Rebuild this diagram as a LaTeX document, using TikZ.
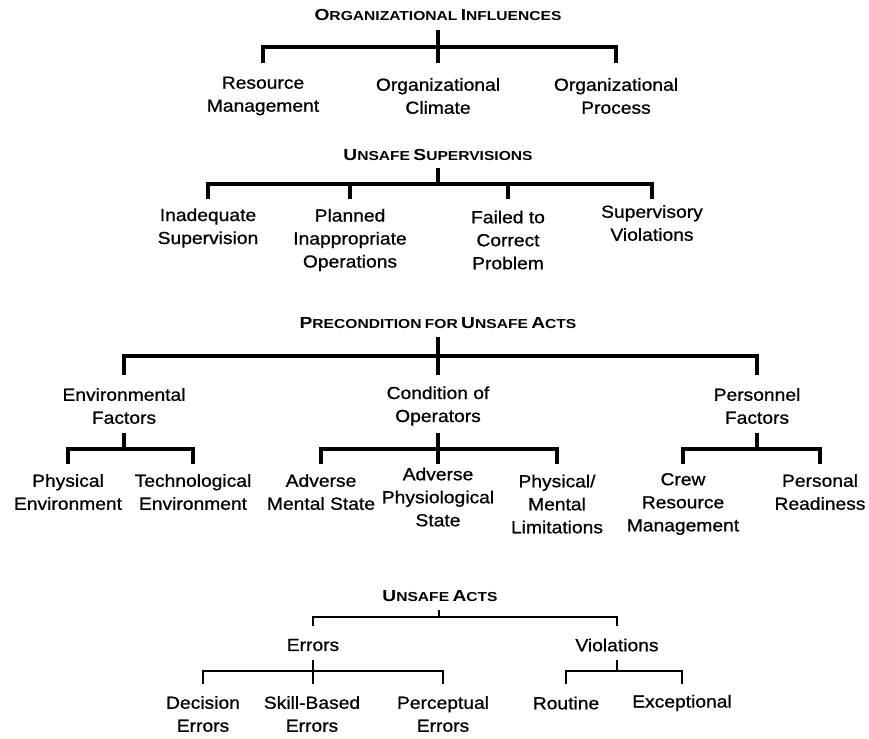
\documentclass[tikz,border=0pt]{standalone}
\usepackage{fontspec}
\setmainfont{Liberation Sans}[FakeStretch=1.1,FakeBold=0.8]
\newfontfamily\titlefont{Liberation Sans}[FakeStretch=1.2]
\newcommand\smcap[2]{{\fontsize{16}{18}\selectfont #1}{\fontsize{13}{18}\selectfont #2}}
\begin{document}
\begin{tikzpicture}[x=1pt,y=-1pt,
  lbl/.style={align=center, inner sep=0pt, font=\fontsize{17.5}{23}\selectfont, text=black},
  ttl/.style={inner sep=0pt, font=\titlefont\bfseries, text=black},
  br/.style={line width=4.5pt, line cap=butt, line join=miter},
  tn/.style={line width=2.5pt, line cap=butt, line join=miter}]
\useasboundingbox[fill=white] (0,0) rectangle (869,738);

% ---------- Organizational influences ----------
\node[ttl] (oi) at (438,15) {\smcap{O}{RGANIZATIONAL} \smcap{I}{NFLUENCES}};
\node[lbl] (rm) at (263,96) {Resource\\Management};
\node[lbl] (oc) at (438,96) {Organizational\\Climate};
\node[lbl] (op) at (616,96) {Organizational\\Process};
\coordinate (oiTop) at (438,30);
\coordinate (oiBar) at (438,47);
\coordinate (oiDrop) at (438,63);
\draw[br] (oiTop) -- (oiDrop);
\draw[br] (rm.north |- oiDrop) |- (oiBar) -| (op.north |- oiDrop);

% ---------- Unsafe supervisions ----------
\node[ttl] (us) at (438,155) {\smcap{U}{NSAFE} \smcap{S}{UPERVISIONS}};
\node[lbl] (is) at (208,228) {Inadequate\\Supervision};
\node[lbl] (pio) at (350,240) {Planned\\Inappropriate\\Operations};
\node[lbl] (fcp) at (508,240) {Failed to\\Correct\\Problem};
\node[lbl] (sv) at (652,223) {Supervisory\\Violations};
\coordinate (usTop) at (438,168);
\coordinate (usBar) at (438,184);
\coordinate (usDrop) at (438,199);
\draw[br] (usTop) -- (usBar);
\draw[br] (is.north |- usDrop) |- (usBar) -| (sv.north |- usDrop);
\draw[br] (pio.north |- usBar) -- (pio.north |- usDrop);
\draw[br] (fcp.north |- usBar) -- (fcp.north |- usDrop);

% ---------- Precondition for unsafe acts ----------
\node[ttl] (pua) at (438,323) {\smcap{P}{RECONDITION} {\fontsize{13}{18}\selectfont FOR} \smcap{U}{NSAFE} \smcap{A}{CTS}};
\node[lbl] (ef) at (124,406) {Environmental\\Factors};
\node[lbl] (co) at (438,406) {Condition of\\Operators};
\node[lbl] (pf) at (757,406) {Personnel\\Factors};
\coordinate (puaTop) at (438,337);
\coordinate (puaBar) at (438,356);
\coordinate (puaDrop) at (438,375);
\draw[br] (puaTop) -- (puaDrop);
\draw[br] (ef.north |- puaDrop) |- (puaBar) -| (pf.north |- puaDrop);

\node[lbl] (phe) at (68,492) {Physical\\Environment};
\node[lbl] (tee) at (193,492) {Technological\\Environment};
\node[lbl] (ams) at (321,492) {Adverse\\Mental State};
\node[lbl] (aps) at (438,497) {Adverse\\Physiological\\State};
\node[lbl] (pml) at (557,504) {Physical/\\Mental\\Limitations};
\node[lbl] (crm) at (683,504) {Crew\\Resource\\Management};
\node[lbl] (prd) at (820,492) {Personal\\Readiness};
\coordinate (sTop) at (0,433);
\coordinate (sBar) at (0,449);
\coordinate (sDrop) at (0,464);
\draw[br] (ef.south |- sTop) -- (ef.south |- sBar);
\draw[br] (phe.north |- sDrop) |- (ef.south |- sBar) -| (tee.north |- sDrop);
\draw[br] (co.south |- sTop) -- (co.south |- sDrop);
\draw[br] (ams.north |- sDrop) |- (co.south |- sBar) -| (pml.north |- sDrop);
\draw[br] (pf.south |- sTop) -- (pf.south |- sBar);
\draw[br] (crm.north |- sDrop) |- (pf.south |- sBar) -| (prd.north |- sDrop);

% ---------- Unsafe acts ----------
\node[ttl] (ua) at (440,596) {\smcap{U}{NSAFE} \smcap{A}{CTS}};
\node[lbl] (er) at (313,645) {Errors};
\node[lbl] (vi) at (617,645) {Violations};
\coordinate (uaTop) at (439,610);
\coordinate (uaBar) at (439,617);
\coordinate (uaDrop) at (439,626);
\draw[tn] (uaTop) -- (uaBar);
\draw[tn] (er.north |- uaDrop) |- (uaBar) -| (vi.north |- uaDrop);

\node[lbl] (de) at (203,714) {Decision\\Errors};
\node[lbl] (sbe) at (312,714) {Skill-Based\\Errors};
\node[lbl] (pce) at (443,714) {Perceptual\\Errors};
\node[lbl] (ro) at (566,703) {Routine};
\node[lbl] (ex) at (682,703) {Exceptional};
\coordinate (tTop) at (0,660);
\coordinate (tBar) at (0,671);
\coordinate (tDrop) at (0,684);
\draw[tn] (er.south |- tTop) -- (er.south |- tDrop);
\draw[tn] (de.north |- tDrop) |- (er.south |- tBar) -| (pce.north |- tDrop);
\draw[tn] (vi.south |- tTop) -- (vi.south |- tBar);
\draw[tn] (ro.north |- tDrop) |- (vi.south |- tBar) -| (ex.north |- tDrop);
\end{tikzpicture}
\end{document}
